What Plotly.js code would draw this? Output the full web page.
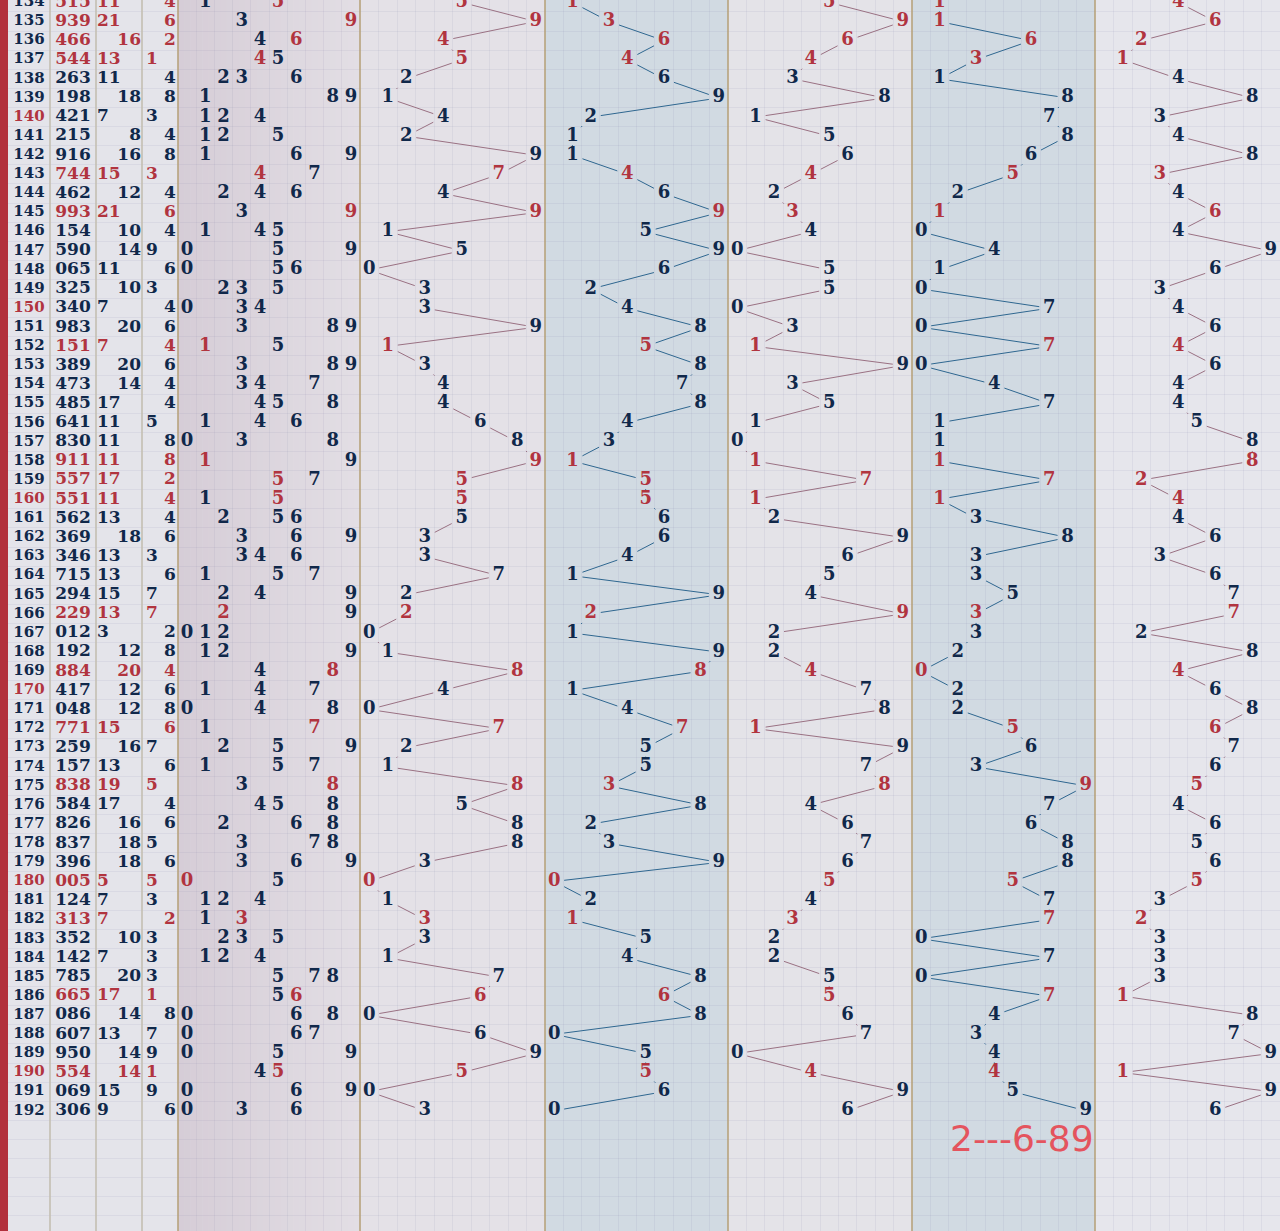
<!DOCTYPE html>
<html>
<head>
<meta charset="utf-8">
<script src="https://cdn.plot.ly/plotly-3.0.1.min.js"></script>
<style>
html,body{margin:0;padding:0;background:#e4e4ea;}
#chart{width:1280px;height:1231px;}
</style>
</head>
<body>
<div id="chart"></div>
<script>
// ---------------- data ----------------
const issues = [134,135,136,137,138,139,140,141,142,143,144,145,146,147,148,149,150,151,152,153,
  154,155,156,157,158,159,160,161,162,163,164,165,166,167,168,169,170,171,172,173,
  174,175,176,177,178,179,180,181,182,183,184,185,186,187,188,189,190,191,192];
const draws = ['515','939','466','544','263','198','421','215','916','744','462','993','154','590','065','325','340','983','151','389',
  '473','485','641','830','911','557','551','562','369','346','715','294','229','012','192','884','417','048','771','259',
  '157','838','584','826','837','396','005','124','313','352','142','785','665','086','607','950','554','069','306'];
const sums = [11,21,16,13,11,18,7,8,16,15,12,21,10,14,11,10,7,20,7,20,
  14,17,11,11,11,17,11,13,18,13,13,15,13,3,12,20,12,12,15,16,
  13,19,17,16,18,18,5,7,7,10,7,20,17,14,13,14,14,15,9];
const spans = [4,6,2,1,4,8,3,4,8,3,4,6,4,9,6,3,4,6,4,6,
  4,4,5,8,8,2,4,4,6,3,6,7,7,2,8,4,6,8,6,7,
  6,5,4,6,5,6,5,3,2,3,3,3,1,8,7,9,1,9,6];
const bottomNote = '2---6-89';

// ---------------- styling / layout constants ----------------
const W = 1280, H = 1231;
const NAVY = '#10284a', RED = '#b1343f';
const PINKLINE = '#9a7183', BLUELINE = '#2f6790';
const GRID = 'rgba(130,130,165,0.10)';
const SERIF = 'DejaVu Serif';
const ROWPX = 19.11;              // pixel height of one row
const yTop = 133.874, yBot = yTop + H / ROWPX;

const digits = draws.map(s => s.split('').map(Number));
const isPair = digits.map(d => new Set(d).size < 3);
const sumTail = sums.map(s => s % 10);

// block definitions (pixel boundaries are layout only)
const blocks = [
  {ax:'x2', x0:178, x1:360, bg:null},
  {ax:'x3', x0:360, x1:545, bg:'#e4e1e7', vals: digits.map(d => d[0]), line: PINKLINE},
  {ax:'x4', x0:545, x1:728, bg:'#d1dae2', vals: digits.map(d => d[1]), line: BLUELINE},
  {ax:'x5', x0:728, x1:912, bg:'#e4e3e8', vals: digits.map(d => d[2]), line: PINKLINE},
  {ax:'x6', x0:912, x1:1095, bg:'#d1dae2', vals: sumTail, line: BLUELINE},
  {ax:'x7', x0:1095, x1:1280, bg:'#e6e6ec', vals: spans, line: PINKLINE}
];

const traces = [];
const font = (size, color) => ({family: SERIF, size: size, color: color, weight: 700});

// ---------- left text columns (axis 'x', range 0..178 px-like) ----------
function textTrace(xs, ys, texts, colors, size, pos, xa) {
  return {type:'scatter', mode:'text', x: xs, y: ys, text: texts,
    textposition: pos || 'middle center', textfont: font(size, colors),
    xaxis: xa || 'x', yaxis: 'y', hoverinfo:'skip', cliponaxis:false, showlegend:false};
}
traces.push(textTrace(issues.map(() => 29), issues, issues.map(String),
  issues.map(v => v % 10 === 0 ? RED : NAVY), 15));
traces.push(textTrace(issues.map(() => 73), issues, draws,
  isPair.map(p => p ? RED : NAVY), 17));
// sums: odd left, even right
{
  const oi = sums.map((s,i)=>i).filter(i => sums[i] % 2 === 1);
  const ei = sums.map((s,i)=>i).filter(i => sums[i] % 2 === 0);
  traces.push(textTrace(oi.map(() => 97), oi.map(i => issues[i]), oi.map(i => String(sums[i])),
    oi.map(i => isPair[i] ? RED : NAVY), 17, 'middle right'));
  traces.push(textTrace(ei.map(() => 141), ei.map(i => issues[i]), ei.map(i => String(sums[i])),
    ei.map(i => isPair[i] ? RED : NAVY), 17, 'middle left'));
}
// spans: odd left, even right
traces.push(textTrace(spans.map(s => s % 2 === 1 ? 152 : 170), issues, spans.map(String),
  isPair.map(p => p ? RED : NAVY), 17));

// ---------- distribution block ----------
{
  const xs = [], ys = [], tx = [], cs = [];
  digits.forEach((d, i) => {
    const uniq = [...new Set(d)];
    uniq.forEach(u => {
      const cnt = d.filter(v => v === u).length;
      xs.push(u); ys.push(issues[i]); tx.push(String(u));
      cs.push(cnt >= 2 ? RED : NAVY);
    });
  });
  traces.push(textTrace(xs, ys, tx, cs, 18, 'middle center', 'x2'));
}

// ---------- zig-zag blocks ----------
blocks.slice(1).forEach(b => {
  const pxX = (b.x1 - b.x0) / 10, pxY = ROWPX;
  const hw = 10, hh = 9;
  const lx = [], ly = [];
  for (let i = 0; i < b.vals.length - 1; i++) {
    const x0 = b.vals[i], y0 = issues[i], x1 = b.vals[i+1], y1 = issues[i+1];
    const dxp = Math.abs((x1 - x0) * pxX), dyp = Math.abs((y1 - y0) * pxY);
    const tx = dxp === 0 ? Infinity : hw / dxp;
    const ty = dyp === 0 ? Infinity : hh / dyp;
    const t = Math.min(tx, ty);
    if (t >= 0.5) continue;
    lx.push(x0 + (x1 - x0) * t, x1 - (x1 - x0) * t, null);
    ly.push(y0 + (y1 - y0) * t, y1 - (y1 - y0) * t, null);
  }
  traces.push({type:'scatter', mode:'lines', x: lx, y: ly, xaxis: b.ax, yaxis:'y',
    line:{color: b.line, width: 1}, hoverinfo:'skip', showlegend:false, connectgaps:false});
  traces.push(textTrace(b.vals, issues, b.vals.map(String),
    isPair.map(p => p ? RED : NAVY), 18, 'middle center', b.ax));
});

// ---------------- layout ----------------
const halfTicks = [];
for (let v = 133.5; v <= 199; v += 1) halfTicks.push(v);
const slotTicks = [];
for (let v = -0.5; v <= 9.5; v += 1) slotTicks.push(v);

const layout = {
  width: W, height: H, autosize:false,
  margin:{l:0, r:0, t:0, b:0, pad:0},
  paper_bgcolor:'#e4e4ea', plot_bgcolor:'rgba(0,0,0,0)',
  hovermode:false, showlegend:false,
  yaxis:{range:[yBot, yTop], domain:[0,1], tickvals: halfTicks, showgrid:true, gridcolor: GRID, gridwidth:1,
    showticklabels:false, zeroline:false, showline:false, ticks:'', fixedrange:true},
  xaxis:{range:[0,178], domain:[0, 178/W], showgrid:false, showticklabels:false, zeroline:false,
    ticks:'', anchor:'y', fixedrange:true},
  shapes: [], annotations: []
};
blocks.forEach(b => {
  const n = b.ax.slice(1);
  layout['xaxis' + n] = {range:[-0.5, 9.5], domain:[b.x0/W, b.x1/W], anchor:'y',
    tickvals: slotTicks, showgrid:true, gridcolor: GRID, gridwidth:1,
    showticklabels:false, zeroline:false, ticks:'', showline:false, fixedrange:true};
  if (b.bg) layout.shapes.push({type:'rect', xref:'paper', yref:'paper', x0:b.x0/W, x1:b.x1/W, y0:0, y1:1,
    fillcolor:b.bg, line:{width:0}, layer:'below'});
});
// gradient for distribution block
{
  const n = 30, c0 = [214,205,215], c1 = [226,222,228];
  for (let k = 0; k < n; k++) {
    const f = k / (n - 1);
    const c = c0.map((v, j) => Math.round(v + (c1[j] - v) * f));
    layout.shapes.push({type:'rect', xref:'paper', yref:'paper',
      x0:(178 + (182 * k) / n) / W, x1:(178 + (182 * (k + 1)) / n + 0.5) / W, y0:0, y1:1,
      fillcolor:`rgb(${c[0]},${c[1]},${c[2]})`, line:{width:0}, layer:'below'});
  }
}
// left red stripe
layout.shapes.push({type:'rect', xref:'paper', yref:'paper', x0:0, x1:8/W, y0:0, y1:1,
  fillcolor:'#b2303c', line:{width:0}, layer:'above'});
// separators
[50, 96, 142].forEach(x => layout.shapes.push({type:'line', xref:'paper', yref:'paper',
  x0:x/W, x1:x/W, y0:0, y1:1, line:{color:'#c2bcae', width:1.5}, layer:'above'}));
[178, 360, 545, 728, 912, 1095].forEach(x => layout.shapes.push({type:'line', xref:'paper', yref:'paper',
  x0:x/W, x1:x/W, y0:0, y1:1, line:{color:'#b59f76', width:1.5}, layer:'above'}));

layout.annotations.push({text: bottomNote, xref:'paper', yref:'paper', x:1096/W, y:1 - 1138/H,
  xanchor:'right', yanchor:'middle', showarrow:false,
  font:{family:'DejaVu Sans', size:36, color:'#e4545e'}});

Plotly.newPlot('chart', traces, layout, {staticPlot:true, displayModeBar:false});
</script>
</body>
</html>
